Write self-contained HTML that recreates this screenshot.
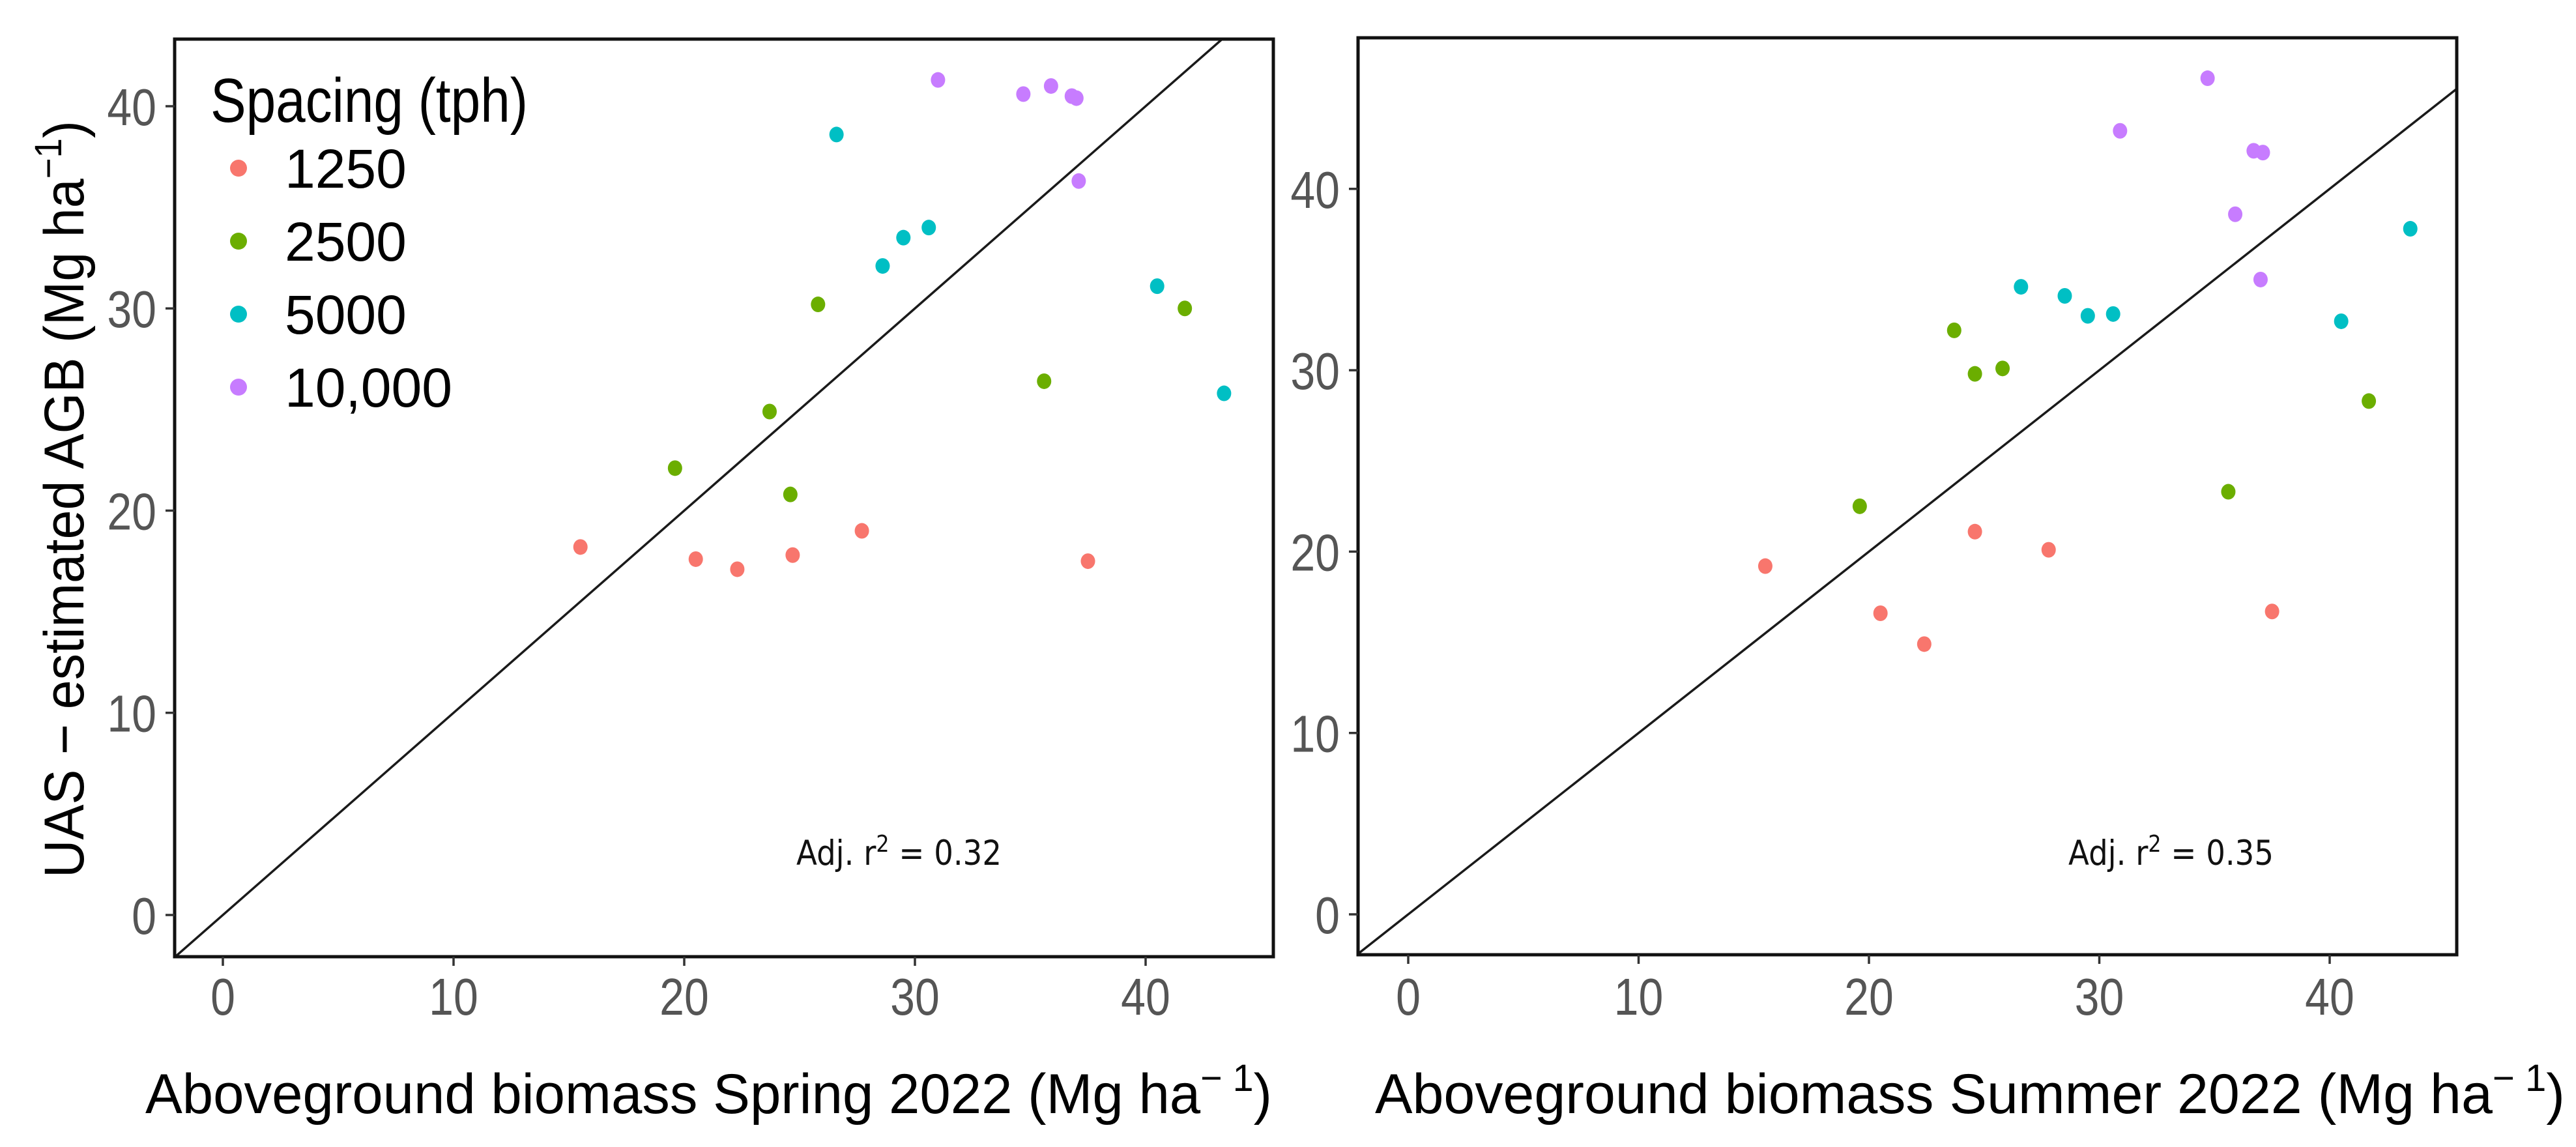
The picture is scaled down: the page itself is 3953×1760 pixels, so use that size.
<!DOCTYPE html>
<html><head><meta charset="utf-8"><style>
html,body{margin:0;padding:0;background:#fff;}
svg{display:block;}
</style></head><body>
<svg id="chart" width="3953" height="1760" viewBox="0 0 3953 1760" xmlns="http://www.w3.org/2000/svg" font-family="Liberation Sans, Arial, sans-serif"></svg>
<script>
const groups = ["1250", "2500", "5000", "10,000"];
const colors = ["#F8766D", "#6BAE00", "#00BFC4", "#C77CFF"];
const xTicks = [0, 10, 20, 30, 40];
const yTicks = [0, 10, 20, 30, 40];
// Spring 2022 panel
const springX = [
  [15.5, 20.5, 22.3, 24.7, 27.7, 37.5],
  [19.6, 23.7, 24.6, 25.8, 35.6, 41.7],
  [26.6, 28.6, 29.5, 30.6, 40.5, 43.4],
  [31.0, 34.7, 35.9, 36.8, 37.0, 37.1]
];
const springY = [
  [18.2, 17.6, 17.1, 17.8, 19.0, 17.5],
  [22.1, 24.9, 20.8, 30.2, 26.4, 30.0],
  [38.6, 32.1, 33.5, 34.0, 31.1, 25.8],
  [41.3, 40.6, 41.0, 40.5, 40.4, 36.3]
];
// Summer 2022 panel
const summerX = [
  [15.5, 20.5, 22.4, 24.6, 27.8, 37.5],
  [19.6, 23.7, 24.6, 25.8, 35.6, 41.7],
  [26.6, 28.5, 29.5, 30.6, 40.5, 43.5],
  [30.9, 34.7, 35.9, 36.7, 37.1, 37.0]
];
const summerY = [
  [19.2, 16.6, 14.9, 21.1, 20.1, 16.7],
  [22.5, 32.2, 29.8, 30.1, 23.3, 28.3],
  [34.6, 34.1, 33.0, 33.1, 32.7, 37.8],
  [43.2, 46.1, 38.6, 42.1, 42.0, 35.0]
];
const springR2 = "0.32";
const summerR2 = "0.35";

const NS = "http://www.w3.org/2000/svg";
const svg = document.getElementById("chart");
function mk(tag, attrs, parent, text){
  const e = document.createElementNS(NS, tag);
  for (const k in attrs) e.setAttribute(k, attrs[k]);
  if (text !== undefined) e.textContent = text;
  (parent || svg).appendChild(e);
  return e;
}

function panel(cfg){
  const g = mk("g", {});
  
  
  const sx = v => cfg.x0 + v * cfg.xs;
  const sy = v => cfg.y0 - v * cfg.ys;
  const L = cfg.box[0], T = cfg.box[1], R = cfg.box[2], B = cfg.box[3];
  // clip
  const cid = "clip-" + cfg.name;
  const cp = mk("clipPath", {id: cid}, g);
  mk("rect", {x: L, y: T, width: R - L, height: B - T}, cp);
  // identity line
  const dMin = Math.max((cfg.x0 - L) / cfg.xs * -1, (sy(0) - B) / cfg.ys);
  const lo = -3, hi = 60;
  const line = mk("line", {x1: sx(lo), y1: sy(lo), x2: sx(hi), y2: sy(hi), stroke: "#1a1a1a", "stroke-width": 3.5, "clip-path": "url(#" + cid + ")"}, g);
  
  
  // points
  for (let s = 0; s < groups.length; s++){
    for (let i = 0; i < cfg.xs_data[s].length; i++){
      const c = mk("ellipse", {cx: sx(cfg.xs_data[s][i]), cy: sy(cfg.ys_data[s][i]), rx: 11, ry: 12, fill: colors[s]}, g);
      
      
    }
  }
  // box
  const box = mk("rect", {x: L, y: T, width: R - L, height: B - T, fill: "none", stroke: "#111", "stroke-width": 5}, g);
  
  
  // x ticks
  xTicks.forEach(t => {
    const tk = mk("line", {x1: sx(t), y1: B, x2: sx(t), y2: B + 14, stroke: "#333", "stroke-width": 3.5}, g);
    
    
    const tl = mk("text", {x: sx(t), y: 1557, "text-anchor": "middle", "font-size": 80, fill: "#555", transform: "translate(" + sx(t) + ",0) scale(0.85,1) translate(" + (-sx(t)) + ",0)"}, g, String(t));
    
    
  });
  yTicks.forEach(t => {
    const tk = mk("line", {x1: L - 14, y1: sy(t), x2: L, y2: sy(t), stroke: "#333", "stroke-width": 3.5}, g);
    
    
    const xr = L - 28;
    const tl = mk("text", {x: xr, y: sy(t) + 29, "text-anchor": "end", "font-size": 80, fill: "#555", transform: "translate(" + xr + ",0) scale(0.85,1) translate(" + (-xr) + ",0)"}, g, String(t));
    
    
  });
  // x title
  const xt = mk("text", {x: cfg.xTitle[0], y: 1708, "font-size": 86, fill: "#000", textLength: cfg.xTitle[1] - cfg.xTitle[0], lengthAdjust: "spacingAndGlyphs"}, g);
  
  
  mk("tspan", {}, xt, cfg.xLabel + " (Mg ha");
  mk("tspan", {dy: -34, "font-size": 58}, xt, "\u2212 1");
  mk("tspan", {dy: 34}, xt, ")");
  // annotation
  const an = mk("text", {x: cfg.ann[0], y: 1327, "font-size": 53, fill: "#111", textLength: cfg.ann[1] - cfg.ann[0], lengthAdjust: "spacingAndGlyphs", "font-family": "DejaVu Sans, Liberation Sans, sans-serif"}, g);
  
  
  mk("tspan", {}, an, "Adj. r");
  mk("tspan", {dy: -20, "font-size": 36}, an, "2");
  mk("tspan", {dy: 20}, an, " = " + cfg.r2);
}

panel({name: "spring-panel", box: [268, 60, 1954, 1468], x0: 342, xs: 35.4, y0: 1404, ys: 31.025,
  xs_data: springX, ys_data: springY, xLabel: "Aboveground biomass Spring 2022", xTitle: [223, 1952], ann: [1222, 1537], r2: springR2});
panel({name: "summer-panel", box: [2084, 58, 3770, 1465], x0: 2161, xs: 35.35, y0: 1403, ys: 27.83,
  xs_data: summerX, ys_data: summerY, xLabel: "Aboveground biomass Summer 2022", xTitle: [2110, 3936], ann: [3174, 3489], r2: summerR2});

// y-axis title
const yt = mk("text", {x: 0, y: 0, "font-size": 86, fill: "#000", "text-anchor": "middle", transform: "translate(128,766) rotate(-90)", textLength: 1162, lengthAdjust: "spacingAndGlyphs"});


mk("tspan", {}, yt, "UAS \u2212 estimated AGB (Mg ha");
mk("tspan", {dy: -34, "font-size": 58}, yt, "\u22121");
mk("tspan", {dy: 34}, yt, ")");

// legend
const lg = mk("g", {});


const lt = mk("text", {x: 323, y: 187, "font-size": 96, fill: "#000", textLength: 487, lengthAdjust: "spacingAndGlyphs"}, lg, "Spacing (tph)");


groups.forEach((gname, i) => {
  const cy = 258 + i * 112;
  const d = mk("circle", {cx: 366, cy: cy, r: 13, fill: colors[i]}, lg);
  
  
  const t = mk("text", {x: 437, y: cy + 30, "font-size": 84, fill: "#000"}, lg, gname);
  
  
});
</script>
</body></html>
